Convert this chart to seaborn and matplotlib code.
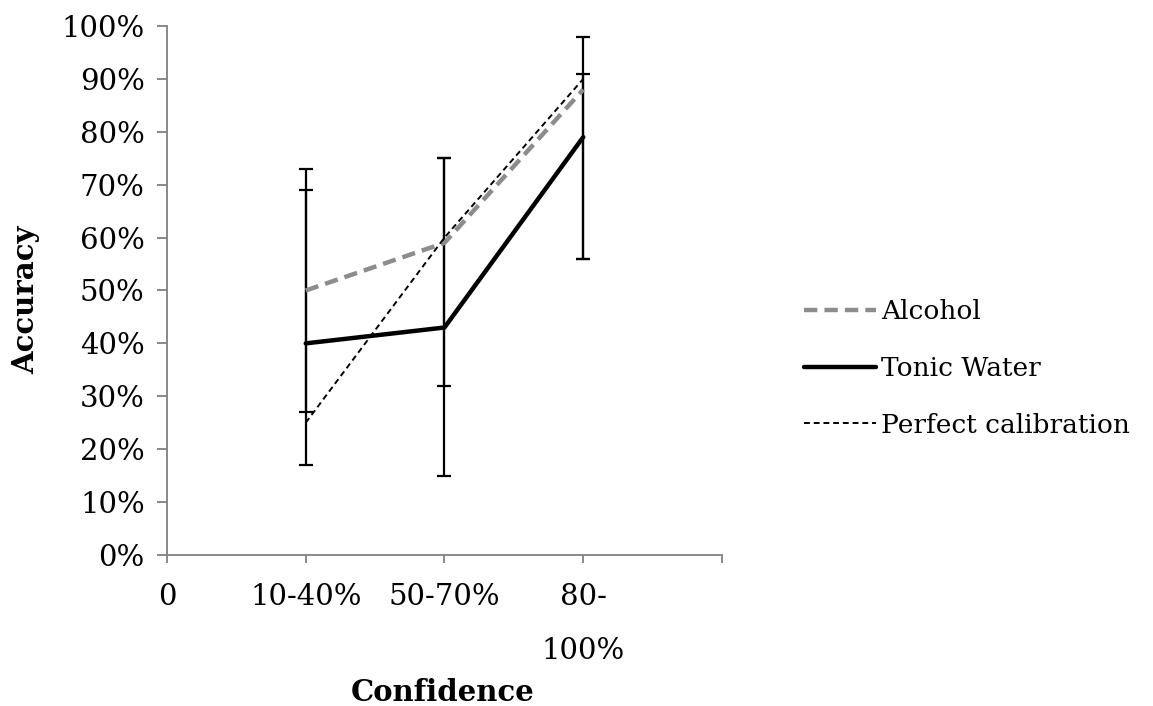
import numpy as np
import matplotlib.pyplot as plt
import seaborn as sns
import pandas as pd

# Werte
confidence = ["10-40%", "50-70%", "80-\n100%"]
positions = [1, 2, 3]
alcohol = [50, 59, 88]
tonic = [40, 43, 79]
perfect = [25, 60, 90]

# Fehlerbalken (untere / obere Grenze)
alcohol_low = [27, 32, 56]
alcohol_high = [73, 75, 98]
tonic_low = [17, 15, 56]
tonic_high = [69, 75, 91]

df = pd.DataFrame({
    "pos": positions * 3,
    "acc": alcohol + tonic + perfect,
    "series": ["Alcohol"] * 3 + ["Tonic Water"] * 3 + ["Perfect calibration"] * 3,
})

sns.set_style("white")
plt.rcParams['font.family'] = ['DejaVu Serif']
plt.rcParams['text.color'] = 'black'
plt.rcParams['axes.labelcolor'] = 'black'
plt.rcParams['xtick.labelcolor'] = 'black'
plt.rcParams['ytick.labelcolor'] = 'black'

fig = plt.figure(figsize=(11.53, 7.06), dpi=100)
ax = fig.add_axes([0.1448, 0.2139, 0.4814, 0.7493])

# Fehlerbalken
for vals, lo, hi in [(alcohol, alcohol_low, alcohol_high), (tonic, tonic_low, tonic_high)]:
    yerr = [np.array(vals) - np.array(lo), np.array(hi) - np.array(vals)]
    ax.errorbar(positions, vals, yerr=yerr, fmt='none', ecolor='black',
                elinewidth=1.6, capsize=5, capthick=1.6, zorder=1)

styles = {
    "Alcohol": dict(color="#8c8c8c", lw=3.2, dashes=(3, 1.6)),
    "Tonic Water": dict(color="black", lw=3.2, dashes=()),
    "Perfect calibration": dict(color="black", lw=1.4, dashes=(3, 2)),
}
for name, st in styles.items():
    sub = df[df["series"] == name]
    sns.lineplot(data=sub, x="pos", y="acc", ax=ax, color=st["color"],
                 linewidth=st["lw"], label=name, zorder=3)
    l = ax.get_lines()[-1]
    if st["dashes"]:
        l.set_dashes(st["dashes"])

ax.set_xlim(0, 4)
ax.set_ylim(0, 100)
ax.set_yticks(np.arange(0, 101, 10))
ax.set_yticklabels([f"{v}%" for v in range(0, 101, 10)])
ax.set_xticks([0, 1, 2, 3, 4])
ax.set_xticklabels(["0"] + confidence + [""], multialignment='center', linespacing=2.2,
                   va='top')

for s in ["top", "right"]:
    ax.spines[s].set_visible(False)
for s in ["left", "bottom"]:
    ax.spines[s].set_color("#808080")
    ax.spines[s].set_linewidth(1.3)

ax.tick_params(axis='y', direction='out', length=7, width=1.3, color="#808080",
               labelsize=21, pad=9, left=True)
ax.tick_params(axis='x', direction='out', length=6, width=1.3, color="#808080",
               labelsize=21, pad=14, bottom=True)

ax.set_xlabel("Confidence", fontsize=21, fontweight='bold')
ax.set_ylabel("Accuracy", fontsize=21, fontweight='bold')
ax.xaxis.set_label_coords(0.497, -0.233)
ax.yaxis.set_label_coords(-0.229, 0.482)

handles, labels = ax.get_legend_handles_labels()
if ax.get_legend():
    ax.get_legend().remove()
fig.legend(handles, labels, loc='center left', bbox_to_anchor=(0.677, 0.478),
           frameon=False, fontsize=19, handlelength=2.7, handletextpad=0.2,
           labelspacing=1.2)

fig.savefig("out.png", dpi=100)
